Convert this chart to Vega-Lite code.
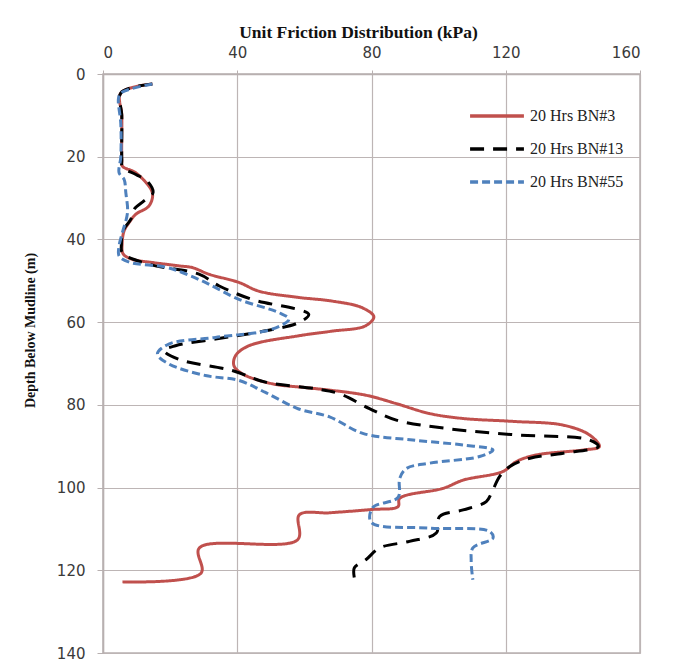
{
  "$schema": "https://vega.github.io/schema/vega-lite/v6.json",
  "width": 537,
  "height": 579,
  "autosize": {"type": "none"},
  "padding": {"left": 103, "top": 74, "right": 35, "bottom": 13},
  "background": "white",
  "config": {
    "view": {"stroke": "#b8b0b0", "strokeWidth": 1.5, "fill": "white"},
    "axis": {"gridColor": "#bdb5b5", "gridWidth": 1.2, "domainColor": "#b8b0b0", "tickColor": "#b8b0b0", "domainWidth": 1.5}
  },
  "data": {
    "values": [
      {"series": "20 Hrs BN#3", "friction": 14.7, "depth": 2.4},
      {"series": "20 Hrs BN#3", "friction": 5.3, "depth": 4.6},
      {"series": "20 Hrs BN#3", "friction": 5.6, "depth": 10},
      {"series": "20 Hrs BN#3", "friction": 5.6, "depth": 20.7},
      {"series": "20 Hrs BN#3", "friction": 5.8, "depth": 22.3},
      {"series": "20 Hrs BN#3", "friction": 9.8, "depth": 23.9},
      {"series": "20 Hrs BN#3", "friction": 14.7, "depth": 28.7},
      {"series": "20 Hrs BN#3", "friction": 13.7, "depth": 31.9},
      {"series": "20 Hrs BN#3", "friction": 9.8, "depth": 33.9},
      {"series": "20 Hrs BN#3", "friction": 7.8, "depth": 35.9},
      {"series": "20 Hrs BN#3", "friction": 6.3, "depth": 37.9},
      {"series": "20 Hrs BN#3", "friction": 5.7, "depth": 41},
      {"series": "20 Hrs BN#3", "friction": 6.0, "depth": 43.5},
      {"series": "20 Hrs BN#3", "friction": 8.7, "depth": 44.8},
      {"series": "20 Hrs BN#3", "friction": 15, "depth": 45.6},
      {"series": "20 Hrs BN#3", "friction": 22.7, "depth": 46.4},
      {"series": "20 Hrs BN#3", "friction": 26.6, "depth": 46.8},
      {"series": "20 Hrs BN#3", "friction": 31.5, "depth": 48.4},
      {"series": "20 Hrs BN#3", "friction": 40.5, "depth": 50.4},
      {"series": "20 Hrs BN#3", "friction": 46.4, "depth": 52.5},
      {"series": "20 Hrs BN#3", "friction": 58, "depth": 54},
      {"series": "20 Hrs BN#3", "friction": 68.2, "depth": 54.9},
      {"series": "20 Hrs BN#3", "friction": 77.2, "depth": 56.5},
      {"series": "20 Hrs BN#3", "friction": 80.7, "depth": 58.7},
      {"series": "20 Hrs BN#3", "friction": 78.2, "depth": 60.9},
      {"series": "20 Hrs BN#3", "friction": 68, "depth": 62.2},
      {"series": "20 Hrs BN#3", "friction": 58.3, "depth": 63.3},
      {"series": "20 Hrs BN#3", "friction": 43.5, "depth": 65.7},
      {"series": "20 Hrs BN#3", "friction": 39.5, "depth": 68.1},
      {"series": "20 Hrs BN#3", "friction": 39, "depth": 70.5},
      {"series": "20 Hrs BN#3", "friction": 41.5, "depth": 72.5},
      {"series": "20 Hrs BN#3", "friction": 50.4, "depth": 74.9},
      {"series": "20 Hrs BN#3", "friction": 60, "depth": 75.8},
      {"series": "20 Hrs BN#3", "friction": 68.2, "depth": 76.5},
      {"series": "20 Hrs BN#3", "friction": 78.5, "depth": 77.7},
      {"series": "20 Hrs BN#3", "friction": 87.4, "depth": 79.7},
      {"series": "20 Hrs BN#3", "friction": 97.3, "depth": 82.1},
      {"series": "20 Hrs BN#3", "friction": 107.3, "depth": 83.3},
      {"series": "20 Hrs BN#3", "friction": 122.2, "depth": 84},
      {"series": "20 Hrs BN#3", "friction": 137.1, "depth": 84.9},
      {"series": "20 Hrs BN#3", "friction": 145, "depth": 87.3},
      {"series": "20 Hrs BN#3", "friction": 147.9, "depth": 90.1},
      {"series": "20 Hrs BN#3", "friction": 143.1, "depth": 90.9},
      {"series": "20 Hrs BN#3", "friction": 129.2, "depth": 92.1},
      {"series": "20 Hrs BN#3", "friction": 123.2, "depth": 93.7},
      {"series": "20 Hrs BN#3", "friction": 119.2, "depth": 96.1},
      {"series": "20 Hrs BN#3", "friction": 107.3, "depth": 98.2},
      {"series": "20 Hrs BN#3", "friction": 101.3, "depth": 100.2},
      {"series": "20 Hrs BN#3", "friction": 88.4, "depth": 102.6},
      {"series": "20 Hrs BN#3", "friction": 87.9, "depth": 104.6},
      {"series": "20 Hrs BN#3", "friction": 80, "depth": 105.3},
      {"series": "20 Hrs BN#3", "friction": 67.5, "depth": 106.1},
      {"series": "20 Hrs BN#3", "friction": 58.5, "depth": 106.6},
      {"series": "20 Hrs BN#3", "friction": 58, "depth": 112.6},
      {"series": "20 Hrs BN#3", "friction": 28.7, "depth": 114.6},
      {"series": "20 Hrs BN#3", "friction": 29.2, "depth": 120.7},
      {"series": "20 Hrs BN#3", "friction": 5.8, "depth": 122.8},
      {"series": "20 Hrs BN#13", "friction": 14.7, "depth": 2.4},
      {"series": "20 Hrs BN#13", "friction": 5.3, "depth": 4.6},
      {"series": "20 Hrs BN#13", "friction": 5.6, "depth": 10},
      {"series": "20 Hrs BN#13", "friction": 5.6, "depth": 20.7},
      {"series": "20 Hrs BN#13", "friction": 5.8, "depth": 22.5},
      {"series": "20 Hrs BN#13", "friction": 9.8, "depth": 24.3},
      {"series": "20 Hrs BN#13", "friction": 13.2, "depth": 25.9},
      {"series": "20 Hrs BN#13", "friction": 14.9, "depth": 28.7},
      {"series": "20 Hrs BN#13", "friction": 12.2, "depth": 30.7},
      {"series": "20 Hrs BN#13", "friction": 9.3, "depth": 32.7},
      {"series": "20 Hrs BN#13", "friction": 8.3, "depth": 35.1},
      {"series": "20 Hrs BN#13", "friction": 5.9, "depth": 38},
      {"series": "20 Hrs BN#13", "friction": 5.5, "depth": 41},
      {"series": "20 Hrs BN#13", "friction": 5.8, "depth": 43.3},
      {"series": "20 Hrs BN#13", "friction": 13.7, "depth": 46},
      {"series": "20 Hrs BN#13", "friction": 28.6, "depth": 48.4},
      {"series": "20 Hrs BN#13", "friction": 34.5, "depth": 51.2},
      {"series": "20 Hrs BN#13", "friction": 44.4, "depth": 54.5},
      {"series": "20 Hrs BN#13", "friction": 61.3, "depth": 58.1},
      {"series": "20 Hrs BN#13", "friction": 58.3, "depth": 60.1},
      {"series": "20 Hrs BN#13", "friction": 48.4, "depth": 62.1},
      {"series": "20 Hrs BN#13", "friction": 33.5, "depth": 64.1},
      {"series": "20 Hrs BN#13", "friction": 21.6, "depth": 65.7},
      {"series": "20 Hrs BN#13", "friction": 18.2, "depth": 66.9},
      {"series": "20 Hrs BN#13", "friction": 22.6, "depth": 69},
      {"series": "20 Hrs BN#13", "friction": 38.5, "depth": 71.7},
      {"series": "20 Hrs BN#13", "friction": 48.4, "depth": 74.5},
      {"series": "20 Hrs BN#13", "friction": 63.3, "depth": 76.1},
      {"series": "20 Hrs BN#13", "friction": 70.4, "depth": 77.3},
      {"series": "20 Hrs BN#13", "friction": 79.4, "depth": 80.9},
      {"series": "20 Hrs BN#13", "friction": 87.4, "depth": 83.7},
      {"series": "20 Hrs BN#13", "friction": 102.3, "depth": 85.7},
      {"series": "20 Hrs BN#13", "friction": 122.2, "depth": 87.2},
      {"series": "20 Hrs BN#13", "friction": 145, "depth": 88.5},
      {"series": "20 Hrs BN#13", "friction": 147.6, "depth": 90.1},
      {"series": "20 Hrs BN#13", "friction": 137.1, "depth": 91.7},
      {"series": "20 Hrs BN#13", "friction": 127.2, "depth": 92.9},
      {"series": "20 Hrs BN#13", "friction": 121.2, "depth": 94.9},
      {"series": "20 Hrs BN#13", "friction": 118.2, "depth": 97.3},
      {"series": "20 Hrs BN#13", "friction": 115.7, "depth": 101.4},
      {"series": "20 Hrs BN#13", "friction": 114.2, "depth": 103.4},
      {"series": "20 Hrs BN#13", "friction": 107.3, "depth": 105.4},
      {"series": "20 Hrs BN#13", "friction": 100.3, "depth": 107},
      {"series": "20 Hrs BN#13", "friction": 99.3, "depth": 111},
      {"series": "20 Hrs BN#13", "friction": 91.3, "depth": 113},
      {"series": "20 Hrs BN#13", "friction": 82.4, "depth": 114.6},
      {"series": "20 Hrs BN#13", "friction": 78.4, "depth": 117.4},
      {"series": "20 Hrs BN#13", "friction": 74.9, "depth": 119.4},
      {"series": "20 Hrs BN#13", "friction": 74.9, "depth": 121.9},
      {"series": "20 Hrs BN#55", "friction": 14.7, "depth": 2.4},
      {"series": "20 Hrs BN#55", "friction": 5.3, "depth": 4.6},
      {"series": "20 Hrs BN#55", "friction": 4.6, "depth": 6},
      {"series": "20 Hrs BN#55", "friction": 5.3, "depth": 12},
      {"series": "20 Hrs BN#55", "friction": 5.3, "depth": 20},
      {"series": "20 Hrs BN#55", "friction": 4.8, "depth": 23.9},
      {"series": "20 Hrs BN#55", "friction": 6.3, "depth": 25.5},
      {"series": "20 Hrs BN#55", "friction": 6.8, "depth": 28.7},
      {"series": "20 Hrs BN#55", "friction": 7.3, "depth": 33.5},
      {"series": "20 Hrs BN#55", "friction": 5.8, "depth": 38.3},
      {"series": "20 Hrs BN#55", "friction": 4.8, "depth": 41.5},
      {"series": "20 Hrs BN#55", "friction": 4.8, "depth": 44},
      {"series": "20 Hrs BN#55", "friction": 7.8, "depth": 45.5},
      {"series": "20 Hrs BN#55", "friction": 18.7, "depth": 46.7},
      {"series": "20 Hrs BN#55", "friction": 23.6, "depth": 48},
      {"series": "20 Hrs BN#55", "friction": 30.5, "depth": 50.4},
      {"series": "20 Hrs BN#55", "friction": 40.5, "depth": 54.5},
      {"series": "20 Hrs BN#55", "friction": 52.4, "depth": 57.7},
      {"series": "20 Hrs BN#55", "friction": 55.4, "depth": 59.3},
      {"series": "20 Hrs BN#55", "friction": 50.4, "depth": 61.7},
      {"series": "20 Hrs BN#55", "friction": 33.5, "depth": 63.7},
      {"series": "20 Hrs BN#55", "friction": 19.6, "depth": 65.3},
      {"series": "20 Hrs BN#55", "friction": 16.2, "depth": 67.7},
      {"series": "20 Hrs BN#55", "friction": 19.6, "depth": 70.1},
      {"series": "20 Hrs BN#55", "friction": 30.5, "depth": 72.9},
      {"series": "20 Hrs BN#55", "friction": 40.5, "depth": 74.1},
      {"series": "20 Hrs BN#55", "friction": 48.4, "depth": 77},
      {"series": "20 Hrs BN#55", "friction": 58.3, "depth": 81},
      {"series": "20 Hrs BN#55", "friction": 67.5, "depth": 82.9},
      {"series": "20 Hrs BN#55", "friction": 77.4, "depth": 86.9},
      {"series": "20 Hrs BN#55", "friction": 92.3, "depth": 88.5},
      {"series": "20 Hrs BN#55", "friction": 107.3, "depth": 89.7},
      {"series": "20 Hrs BN#55", "friction": 116.2, "depth": 90.9},
      {"series": "20 Hrs BN#55", "friction": 112.2, "depth": 92.5},
      {"series": "20 Hrs BN#55", "friction": 97.3, "depth": 94.1},
      {"series": "20 Hrs BN#55", "friction": 90.4, "depth": 95.4},
      {"series": "20 Hrs BN#55", "friction": 88.4, "depth": 97.8},
      {"series": "20 Hrs BN#55", "friction": 87.9, "depth": 102.4},
      {"series": "20 Hrs BN#55", "friction": 80.4, "depth": 104.8},
      {"series": "20 Hrs BN#55", "friction": 79.9, "depth": 108.4},
      {"series": "20 Hrs BN#55", "friction": 97.3, "depth": 109.8},
      {"series": "20 Hrs BN#55", "friction": 115.2, "depth": 110.6},
      {"series": "20 Hrs BN#55", "friction": 116.2, "depth": 112.2},
      {"series": "20 Hrs BN#55", "friction": 110.2, "depth": 114.6},
      {"series": "20 Hrs BN#55", "friction": 109.7, "depth": 117.8},
      {"series": "20 Hrs BN#55", "friction": 110.2, "depth": 122.3}
    ]
  },
  "mark": {"type": "line", "strokeWidth": 3, "interpolate": "catmull-rom", "clip": true},
  "encoding": {
    "x": {
      "field": "friction", "type": "quantitative",
      "scale": {"domain": [0, 160], "nice": false, "zero": false},
      "axis": {
        "orient": "top", "values": [0, 40, 80, 120, 160], "title": "Unit Friction Distribution (kPa)",
        "labelFont": "DejaVu Sans", "labelFontSize": 15, "labelColor": "#3a3a3a", "labelPadding": 10, "tickSize": 4,
        "titleFont": "Liberation Serif", "titleFontSize": 17.5, "titleFontWeight": "bold", "titleColor": "#111",
        "titleX": 255, "titleY": -37, "titleAlign": "center", "titleBaseline": "alphabetic", "titleAnchor": null
      }
    },
    "y": {
      "field": "depth", "type": "quantitative",
      "scale": {"domain": [0, 140], "reverse": true, "nice": false, "zero": false},
      "axis": {
        "values": [0, 20, 40, 60, 80, 100, 120, 140], "title": "Depth Below Mudline (m)",
        "labelFont": "DejaVu Sans", "labelFontSize": 15, "labelColor": "#3a3a3a", "labelPadding": 12, "tickSize": 6,
        "titleFont": "Liberation Serif", "titleFontSize": 14, "titleFontWeight": "bold", "titleColor": "#111",
        "titleX": -73, "titleY": 256, "titleAngle": -90, "titleAlign": "center", "titleBaseline": "middle", "titleAnchor": null
      }
    },
    "color": {
      "field": "series", "type": "nominal",
      "scale": {"domain": ["20 Hrs BN#3", "20 Hrs BN#13", "20 Hrs BN#55"], "range": ["#C0504D", "#000000", "#4F81BD"]},
      "legend": {
        "title": null, "orient": "none", "legendX": 365, "legendY": 34,
        "symbolType": "stroke", "symbolSize": 2900, "symbolStrokeWidth": 3.5,
        "labelFont": "Liberation Serif", "labelFontSize": 16, "labelColor": "#222", "labelOffset": 4,
        "clipHeight": 16, "rowPadding": 17
      }
    },
    "strokeDash": {
      "field": "series", "type": "nominal",
      "scale": {"domain": ["20 Hrs BN#3", "20 Hrs BN#13", "20 Hrs BN#55"], "range": [[1, 0], [14, 9], [8, 4]]},
      "legend": null
    },
    "order": {"field": "depth", "type": "quantitative"}
  }
}
